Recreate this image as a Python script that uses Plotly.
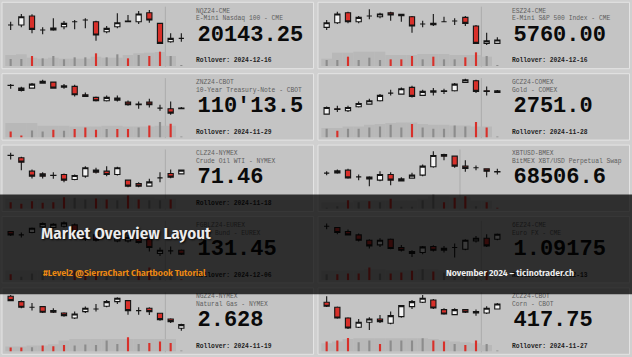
import plotly.graph_objects as go

W, H = 632, 357
ROW = H / 5.0

# ---------------- instruments ----------------
symbols = ["NQZ24-CME", "ESZ24-CME", "ZNZ24-CBOT", "GCZ24-COMEX", "CLZ24-NYMEX",
           "XBTUSD-BMEX", "FGBLZ24-EUREX", "6EZ24-CME", "NGZ24-NYMEX", "ZCZ24-CBOT"]
descriptions = ["E-Mini Nasdaq 100 - CME", "E-Mini S&P 500 Index - CME",
                "10-Year Treasury-Note - CBOT", "Gold - COMEX", "Crude Oil WTI - NYMEX",
                "BitMEX XBT/USD Perpetual Swap", "Euro Bund - EUREX", "Euro FX - CME",
                "Natural Gas - NYMEX", "Corn - CBOT"]
last_prices = ["20143.25", "5760.00", "110'13.5", "2751.0", "71.46",
               "68506.6", "131.45", "1.09175", "2.628", "417.75"]
rollovers = ["2024-12-16", "2024-12-16", "2024-11-29", "2024-11-28", "2024-11-18",
             "", "2024-12-06", "2024-12-13", "2024-11-19", "2024-11-27"]
separator_bar = [14.5, 14.5, 14.5, 14.5, 14.5, 12.5, 14.5, 14.5, 14.5, 14.5]
bar_index = list(range(17))

# ---------------- relative price levels ----------------
nq_o = [139, 139, 166, 124, 124, 134, 149, 154, 149, 119, 134, 151, 149, 176, 144, 89, 99]
nq_h = [149, 172, 171, 132, 159, 151, 154, 159, 152, 136, 174, 169, 181, 184, 146, 114, 114]
nq_l = [124, 132, 114, 111, 122, 126, 126, 129, 92, 114, 129, 149, 142, 146, 82, 86, 89]
nq_c = [139, 164, 126, 124, 130, 144, 149, 154, 109, 129, 146, 149, 172, 154, 84, 99, 99]
nq_vol = [21, 21, 30, 23, 30, 20, 26, 26, 38, 26, 35, 23, 33, 30, 43, 30, 2]
nq_bg = [33, 35, 25, 22, 25, 22, 22, 22, 28, 25, 25, 33, 38, 40, 42, 30, 0]

es_o = [132, 146, 176, 149, 166, 164, 176, 171, 164, 142, 144, 149, 151, 162, 136, 84, 84]
es_h = [154, 179, 179, 166, 186, 176, 179, 172, 166, 152, 172, 164, 159, 166, 139, 116, 102]
es_l = [124, 142, 144, 144, 156, 159, 152, 149, 116, 132, 136, 149, 139, 136, 82, 79, 84]
es_c = [146, 172, 149, 162, 166, 172, 169, 167, 136, 142, 140, 149, 151, 144, 84, 92, 94]
es_vol = [18, 18, 28, 18, 25, 18, 20, 20, 30, 20, 28, 20, 20, 26, 41, 30, 2]
es_bg = [22, 40, 40, 43, 43, 43, 33, 33, 33, 36, 36, 36, 33, 33, 33, 28, 0]

zn_o = [172.5, 164, 164, 179, 182, 167, 169, 144, 136, 126, 134, 122, 114, 122, 104, 102, 102]
zn_h = [176, 168, 179, 189, 182, 176, 174, 151, 139, 142, 142, 127, 124, 132, 114, 124, 107]
zn_l = [162, 154, 162, 177, 164, 162, 139, 138, 124, 124, 124, 111, 102, 106, 96, 84, 101]
zn_c = [172, 157, 176, 184, 164, 171, 144, 139, 126, 136, 128, 114, 116, 114, 104, 89, 104]
zn_vol = [18, 6, 21, 18, 23, 20, 25, 30, 23, 25, 25, 25, 30, 36, 46, 41, 2]
zn_bg = [43, 43, 43, 35, 35, 35, 33, 33, 33, 35, 35, 33, 33, 33, 35, 35, 0]

gc_o = [86, 102, 96, 108, 116, 126, 149, 146, 166, 142, 152, 154, 156, 181, 186, 156, 151]
gc_h = [109, 111, 111, 124, 132, 146, 159, 166, 171, 159, 164, 162, 179, 192, 189, 169, 158]
gc_l = [84, 92, 92, 106, 114, 124, 142, 144, 136, 140, 142, 146, 154, 179, 149, 142, 149]
gc_c = [106, 100, 106, 118, 126, 142, 149, 162, 139, 154, 156, 156, 176, 189, 154, 154, 156]
gc_vol = [26, 20, 26, 26, 30, 33, 38, 30, 40, 30, 26, 26, 36, 33, 46, 30, 2]
gc_bg = [28, 28, 33, 33, 38, 40, 43, 45, 45, 40, 38, 38, 36, 36, 33, 33, 0]

cl_o = [176.5, 169, 129, 121, 116.5, 119, 104, 114, 132, 129, 119, 102, 92, 84, 109, 122, 121]
cl_h = [184, 172, 134, 126, 126, 122, 119, 144, 139, 144, 142, 104, 96, 106, 126, 134, 134]
cl_l = [164, 132, 107, 107, 106, 96, 102, 109, 122, 114, 116, 81, 81, 82, 96, 108, 119]
cl_c = [176, 156, 114, 114, 116, 102, 116, 139, 126, 119, 139, 84, 84, 97, 109, 111, 132]
cl_vol = [20, 15, 23, 18, 20, 35, 33, 28, 31, 28, 26, 40, 28, 26, 26, 28, 0]
cl_bg = [30, 30, 30, 30, 30, 32, 32, 32, 32, 32, 32, 35, 35, 35, 30, 30, 0]

xbt_o = [123, 124, 132, 112, 111, 102, 119, 100, 108, 117, 142, 179, 174, 144, 139, 136, 127.5]
xbt_h = [129, 134, 136, 119, 114, 129, 126, 111, 124, 149, 189, 181, 176, 162, 146, 136, 136]
xbt_l = [117, 121, 106, 102, 84, 99, 87, 99, 106, 114, 139, 162, 139, 127, 132, 111, 119]
xbt_c = [123, 130, 109, 112, 106, 119, 102, 106, 117, 144, 176, 174, 144, 137, 139, 129, 127]
xbt_vol = [2, 8, 26, 20, 23, 20, 30, 6, 6, 26, 43, 20, 33, 38, 8, 20, 2]
xbt_bg = [20, 20, 20, 25, 25, 25, 25, 25, 25, 30, 38, 38, 35, 35, 25, 25, 0]

fgbl_o = [162, 152, 159, 176, 174, 178, 182, 149, 152, 146, 134, 134, 142, 139, 96, 104, 106]
fgbl_h = [164, 159, 174, 189, 187, 192, 186, 159, 156, 154, 148, 152, 149, 144, 114, 117, 108]
fgbl_l = [149, 144, 157, 172, 171, 174, 158, 134, 132, 139, 130, 129, 126, 102, 89, 94, 92]
fgbl_c = [152, 152, 172, 186, 184, 188, 162, 139, 136, 146, 144, 144, 129, 114, 106, 104, 94]
fgbl_vol = [18, 10, 20, 23, 26, 23, 28, 23, 26, 23, 26, 28, 30, 38, 30, 26, 2]
fgbl_bg = [30, 30, 30, 30, 30, 30, 30, 30, 30, 30, 30, 30, 30, 30, 30, 30, 0]

e6_o = [178, 174, 162, 152, 136, 122, 139, 114, 102, 99, 117, 106, 114, 109, 134, 142, 139]
e6_h = [186, 176, 168, 156, 139, 142, 141, 122, 106, 119, 121, 119, 126, 139, 149, 154, 156]
e6_l = [169, 154, 150, 132, 111, 116, 109, 102, 86, 94, 102, 99, 84, 106, 129, 116, 136]
e6_c = [178, 159, 152, 136, 119, 136, 111, 106, 96, 116, 106, 112, 114, 136, 142, 119, 154]
e6_vol = [18, 18, 20, 20, 38, 20, 20, 23, 28, 33, 26, 23, 26, 25, 28, 30, 2]
e6_bg = [28, 28, 30, 30, 33, 33, 30, 30, 30, 33, 33, 30, 30, 30, 28, 28, 0]

ng_o = [182, 166, 149, 151, 139, 132, 117, 136, 144, 152, 166, 169, 139, 146, 131, 114, 86]
ng_h = [186, 169, 162, 152, 146, 134, 136, 151, 159, 171, 179, 169, 149, 149, 132, 116, 100]
ng_l = [167, 146, 139, 132, 132, 121, 114, 132, 136, 149, 159, 127, 127, 126, 109, 102, 79]
ng_c = [169, 149, 149, 134, 134, 124, 129, 146, 144, 166, 176, 139, 139, 136, 112, 106, 97]
ng_vol = [12, 12, 13, 18, 16, 20, 18, 21, 20, 33, 23, 43, 23, 26, 30, 26, 2]
ng_bg = [15, 15, 18, 18, 22, 33, 38, 38, 38, 38, 38, 38, 38, 38, 38, 38, 0]

zc_o = [164, 149, 117, 89, 104, 114, 101, 121, 151, 164, 171, 142, 127, 142, 136, 132, 144]
zc_h = [182, 151, 119, 114, 119, 126, 136, 156, 171, 186, 174, 146, 146, 144, 142, 152, 162]
zc_l = [150, 115, 84, 87, 81, 102, 98, 118, 144, 162, 144, 127, 125, 132, 124, 129, 142]
zc_c = [152, 117, 87, 104, 114, 106, 124, 154, 166, 176, 147, 129, 142, 134, 132, 146, 159]
zc_vol = [30, 33, 41, 28, 33, 23, 33, 33, 33, 40, 33, 30, 23, 20, 33, 23, 2]
zc_bg = [25, 30, 38, 40, 40, 40, 40, 40, 40, 40, 38, 35, 30, 28, 25, 20, 0]

title_text = "Market Overview Layout"
subtitle_text = "#Level2 @SierraChart Chartbook Tutorial"
credit_text = "November 2024 \u2013 ticinotrader.ch"

panels = [
    (nq_o, nq_h, nq_l, nq_c, nq_vol, nq_bg),
    (es_o, es_h, es_l, es_c, es_vol, es_bg),
    (zn_o, zn_h, zn_l, zn_c, zn_vol, zn_bg),
    (gc_o, gc_h, gc_l, gc_c, gc_vol, gc_bg),
    (cl_o, cl_h, cl_l, cl_c, cl_vol, cl_bg),
    (xbt_o, xbt_h, xbt_l, xbt_c, xbt_vol, xbt_bg),
    (fgbl_o, fgbl_h, fgbl_l, fgbl_c, fgbl_vol, fgbl_bg),
    (e6_o, e6_h, e6_l, e6_c, e6_vol, e6_bg),
    (ng_o, ng_h, ng_l, ng_c, ng_vol, ng_bg),
    (zc_o, zc_h, zc_l, zc_c, zc_vol, zc_bg),
]

RED = "#d8302a"
VOL_RED = "#d8302a"
VOL_GRAY = "#8c8c8c"
PANEL_BG = "#c4c4c4"
PROFILE = "#b8b8b8"

fig = go.Figure()
layout = {}
shapes = []


def px_y(y):
    return 1 - y / H


for k, (o, h, l, c, v, bg) in enumerate(panels):
    r, col = divmod(k, 2)
    xa, ya, yv = f"x{k+1}", f"y{k+1}", f"y{k+11}"
    top = r * ROW
    left = col * 316
    layout[f"xaxis{k+1}"] = dict(domain=[left / W, (left + 192) / W], range=[-1, 17],
                                 visible=False, fixedrange=True,
                                 rangeslider=dict(visible=False), anchor=ya)
    layout[f"yaxis{k+1}"] = dict(domain=[px_y(top + ROW), px_y(top)], range=[0, 214],
                                 visible=False, fixedrange=True, anchor=xa)
    layout[f"yaxis{k+11}"] = dict(domain=[px_y(top + 66), px_y(top + 46)], range=[0, 60],
                                  visible=False, fixedrange=True, anchor=xa)
    shapes.append(dict(type="rect", xref="paper", yref="paper",
                       x0=(left + 2) / W, x1=(left + 313.5) / W,
                       y0=px_y(top + 68.7), y1=px_y(top + 2.3),
                       fillcolor=PANEL_BG, line=dict(color="#e4e4e4", width=1), layer="below"))
    shapes.append(dict(type="line", xref=xa, yref="paper",
                       x0=separator_bar[k], x1=separator_bar[k],
                       y0=px_y(top + 66.7), y1=px_y(top + 6.7),
                       line=dict(color="#ababab", width=1), layer="below"))
    fig.add_trace(go.Bar(x=bar_index, y=bg, width=1.0, marker=dict(color=PROFILE, line_width=0),
                         xaxis=xa, yaxis=yv, hoverinfo="skip", showlegend=False))
    vcols = [VOL_RED if cc < oo else VOL_GRAY for oo, cc in zip(o, c)]
    fig.add_trace(go.Bar(x=bar_index, y=v, width=0.2, marker=dict(color=vcols, line_width=0),
                         xaxis=xa, yaxis=yv, hoverinfo="skip", showlegend=False))
    fig.add_trace(go.Candlestick(x=bar_index, open=o, high=h, low=l, close=c,
                                 xaxis=xa, yaxis=ya, whiskerwidth=0,
                                 increasing=dict(line=dict(color="#141414", width=1.1), fillcolor="#f4f4f4"),
                                 decreasing=dict(line=dict(color="#141414", width=1.1), fillcolor=RED),
                                 hoverinfo="skip", showlegend=False))

# overlay axis for the panel labels, in page pixels
layout["xaxis11"] = dict(domain=[0, 1], range=[0, W], visible=False, fixedrange=True, anchor="y21")
layout["yaxis21"] = dict(domain=[0, 1], range=[H, 0], visible=False, fixedrange=True, anchor="x11")

sx, sy, dy_, py, rx, ry, rtxt = [], [], [], [], [], [], []
for k in range(10):
    r, col = divmod(k, 2)
    top = r * ROW
    left = col * 316
    sx.append(left + 196)
    sy.append(top + 11)
    dy_.append(top + 18.8)
    py.append(top + 35)
    if rollovers[k]:
        rx.append(left + 196)
        ry.append(top + 60.8)
        rtxt.append("Rollover: " + rollovers[k])

mono = "Liberation Mono, DejaVu Sans Mono, monospace"
fig.add_trace(go.Scatter(x=sx, y=sy, text=symbols, mode="text", textposition="middle right",
                         textfont=dict(family=mono, size=6.3, color="#5e5e5e"),
                         xaxis="x11", yaxis="y21", hoverinfo="skip", showlegend=False))
fig.add_trace(go.Scatter(x=sx, y=dy_, text=descriptions, mode="text", textposition="middle right",
                         textfont=dict(family=mono, size=6.3, color="#5e5e5e"),
                         xaxis="x11", yaxis="y21", hoverinfo="skip", showlegend=False))
fig.add_trace(go.Scatter(x=[x + 1.5 for x in sx], y=py, text=last_prices, mode="text",
                         textposition="middle right",
                         textfont=dict(family=mono, size=22, color="#0a0a0a", weight="bold"),
                         xaxis="x11", yaxis="y21", hoverinfo="skip", showlegend=False))
fig.add_trace(go.Scatter(x=rx, y=ry, text=rtxt, mode="text", textposition="middle right",
                         textfont=dict(family=mono, size=6.3, color="#1e1e1e", weight="bold"),
                         xaxis="x11", yaxis="y21", hoverinfo="skip", showlegend=False))

# banner
shapes.append(dict(type="rect", xref="paper", yref="paper", x0=0, x1=1,
                   y0=px_y(294.3), y1=px_y(194.5), fillcolor="rgba(0,0,0,0.76)",
                   line=dict(width=0), layer="above"))

cond = "Fira Sans Condensed, Roboto Condensed, sans-serif"
annotations = [
    dict(text=title_text, x=39 / W, y=px_y(233), xref="paper", yref="paper",
         xanchor="left", yanchor="middle", showarrow=False,
         font=dict(family=cond, size=17, color="#ececec", weight=600,
                   shadow="1px 1px 2px rgba(0,0,0,0.9)")),
    dict(text=subtitle_text, x=41 / W, y=px_y(273), xref="paper", yref="paper",
         xanchor="left", yanchor="middle", showarrow=False,
         font=dict(family=cond, size=9.6, color="#ef8a12", weight=600)),
    dict(text=credit_text, x=444 / W, y=px_y(273), xref="paper", yref="paper",
         xanchor="left", yanchor="middle", showarrow=False,
         font=dict(family=cond, size=9.6, color="#f0f0f0", weight=600)),
]

fig.update_layout(width=W, height=H, autosize=False, margin=dict(l=0, r=0, t=0, b=0),
                  paper_bgcolor="#d0d0d0", plot_bgcolor="rgba(0,0,0,0)",
                  barmode="overlay", showlegend=False, shapes=shapes,
                  annotations=annotations, **layout)

fig.write_html("out.html", config={"displayModeBar": False},
               post_script="document.body.style.margin='0';")
